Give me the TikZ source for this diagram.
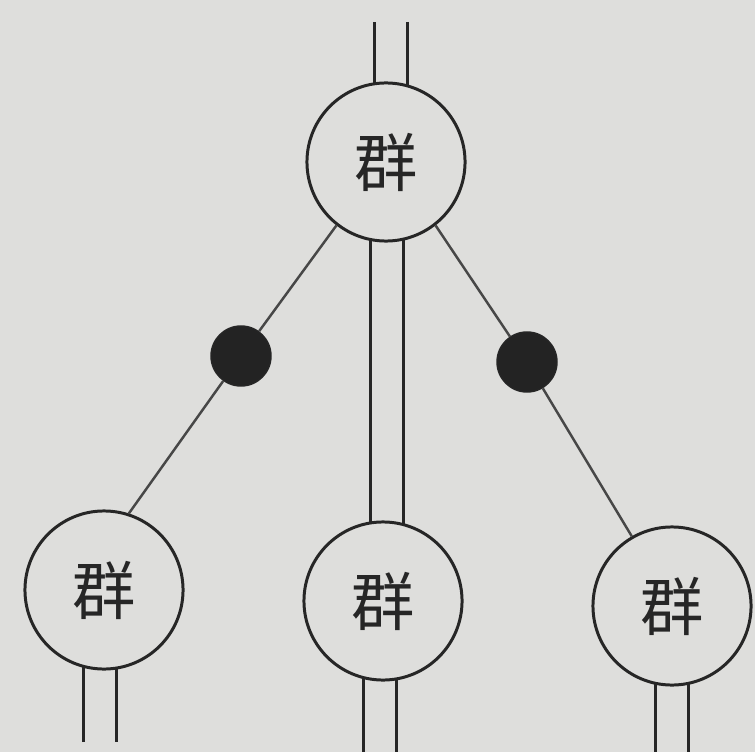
\documentclass[tikz,border=0pt]{standalone}
\usepackage{fontspec}
\newfontfamily\cjk{Noto Sans CJK SC}
\usepackage{xcolor}
\usepackage{tikz}
\usetikzlibrary{calc,backgrounds}

\definecolor{paper}{RGB}{222,222,220}
\definecolor{ink}{RGB}{38,38,38}

\begin{document}
\begin{tikzpicture}[x=0.01cm, y=-0.01cm,
    group/.style={circle, draw=ink, fill=paper, line width=0.85pt,
                  minimum size=1.58cm, inner sep=0pt, text=ink,
                  font=\cjk\fontsize{18}{18}\selectfont},
    knot/.style={circle, draw=ink, fill=ink!92!black, inner sep=0pt, minimum size=0.6cm},
    link/.style={draw=ink!85, line width=0.7pt},
    pair/.style={draw=ink, line width=0.85pt, double=paper, double distance=0.3cm},
]
\useasboundingbox (0,0) rectangle (755,752);

% groups
\node[group] (top) at (386,162) {群};
\node[group] (left) at (104,590) {群};
\node[group] (mid) at (383,601) {群};
\node[group] (right) at (672,606) {群};

% knots on the side branches
\node[knot] (kl) at (241,356) {};
\node[knot] (kr) at (527,362) {};

% side branches
\draw[link] (top.232) -- (kl) -- (left.72);
\draw[link] (top.308) -- (kr) -- (right.120);

% free ends of the double strands
\coordinate (in) at (391,22);
\coordinate (outl) at (100,742);
\coordinate (outm) at (380,752);
\coordinate (outr) at (672,752);

% double strands, behind the groups
\begin{pgfonlayer}{background}
\fill[paper] (0,0) rectangle (755,752);
\draw[pair] (in) -- (in |- top);
\draw[pair] ($(top)+(1,0)$) -- ($(mid)+(4,0)$);
\draw[pair] (outl) -- (outl |- left);
\draw[pair] (outm) -- (outm |- mid);
\draw[pair] (outr) -- (outr |- right);
\end{pgfonlayer}
\end{tikzpicture}
\end{document}
